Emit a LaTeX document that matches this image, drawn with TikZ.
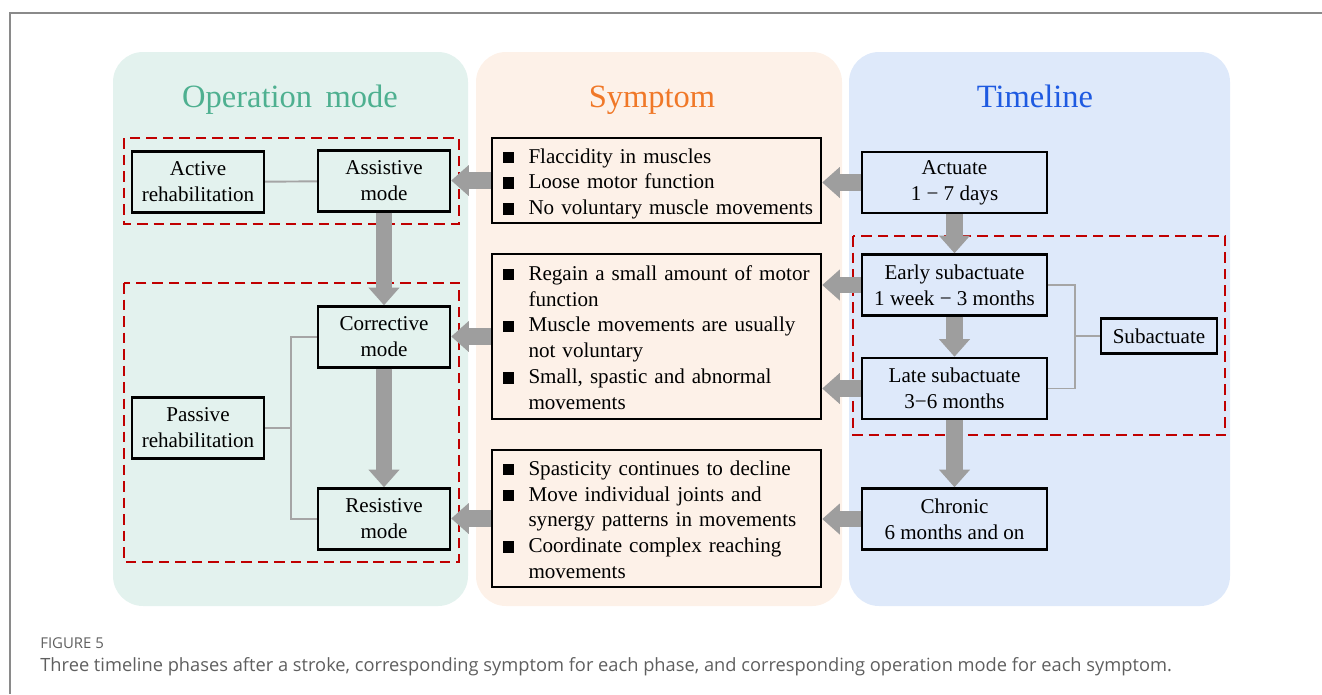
\documentclass[tikz,border=0pt]{standalone}
\usepackage{fontspec}
\setmainfont{Liberation Serif}
\newfontfamily\capfont{Open Sans}
\usetikzlibrary{arrows.meta}
\definecolor{opgreen}{RGB}{227,242,238}
\definecolor{sypeach}{RGB}{253,241,232}
\definecolor{tlblue}{RGB}{222,233,250}
\definecolor{optitle}{RGB}{78,176,144}
\definecolor{sytitle}{RGB}{240,120,40}
\definecolor{tltitle}{RGB}{30,90,225}
\definecolor{linkgray}{RGB}{165,165,165}
\definecolor{flowgray}{RGB}{158,158,158}
\definecolor{groupred}{RGB}{192,0,0}
\definecolor{capgray}{RGB}{95,95,95}
\definecolor{framegray}{RGB}{138,138,138}
\newcommand{\sq}{\rule{6.5pt}{6.5pt}}

\begin{document}
\begin{tikzpicture}[x=0.02cm,y=-0.02cm]
    \tikzset{box/.style = {draw,line width=1.4pt,align=center,inner sep=0pt,
        font=\fontsize{12}{14.7}\selectfont}}
    \tikzset{opbox/.style = {box,fill=opgreen,minimum width=2.64cm,minimum height=1.22cm}}
    \tikzset{tlbox/.style = {box,fill=tlblue,minimum width=3.7cm,minimum height=1.22cm}}
    \tikzset{sybox/.style = {box,fill=sypeach,text width=6.14cm,inner xsep=0.22cm,align=left}}
    \tikzset{title/.style = {font=\fontsize{18.5}{20}\selectfont,anchor=base}}
    \tikzset{link/.style = {draw=linkgray,line width=1.1pt}}
    \tikzset{flow/.style = {draw=flowgray,line width=9.5pt,-{Triangle[width=17pt,length=10pt]}}}
    \tikzset{group/.style = {draw=groupred,line width=1.4pt,dash pattern=on 6pt off 3.4pt}}
    \tikzset{captext/.style = {anchor=base west,inner sep=0pt,text=capgray}}
    \useasboundingbox (0,0) rectangle (1322,694);

    % frame and panels
    \draw[framegray,line width=1.1pt] (1322,13) -- (10,13) -- (10,694);
    \fill[opgreen,rounded corners=0.6cm] (113,52) rectangle (468,606);
    \fill[sypeach,rounded corners=0.6cm] (476,52) rectangle (842,606);
    \fill[tlblue,rounded corners=0.6cm] (849,52) rectangle (1230,606);
    \node[title,text=optitle] (t1) at (290,107) {Operation\, mode};
    \node[title,text=sytitle] (t2) at (652,107) {Symptom};
    \node[title,text=tltitle] (t3) at (1035,107) {Timeline};

    % groups
    \draw[group] (124,138) rectangle (459,224);
    \draw[group] (124,283) rectangle (459,562);
    \draw[group] (853,236) rectangle (1225,435);

    % vertices
    \node[opbox] (act) at (198,182) {Active\\rehabilitation};
    \node[opbox] (asst) at (384,181) {Assistive\\mode};
    \node[opbox] (corr) at (384,337) {Corrective\\mode};
    \node[opbox] (pass) at (198,428) {Passive\\rehabilitation};
    \node[opbox] (res) at (384,519) {Resistive\\mode};

    \node[sybox,minimum height=1.70cm] (s1) at (656.5,180.5) {\raisebox{-1.8pt}[\height][\depth]{%
        \begin{tabular}{@{}l@{\hspace{8pt}}l@{}}
        \sq & Flaccidity in muscles\\
        \sq & Loose motor function\\
        \sq & No voluntary muscle movements
        \end{tabular}}};
    \node[sybox,minimum height=3.30cm] (s2) at (656.5,336.5) {\raisebox{-1.8pt}[\height][\depth]{%
        \begin{tabular}{@{}l@{\hspace{8pt}}l@{}}
        \sq & Regain a small amount of motor\\
            & function\\
        \sq & Muscle movements are usually\\
            & not voluntary\\
        \sq & Small, spastic and abnormal\\
            & movements
        \end{tabular}}};
    \node[sybox,minimum height=2.74cm] (s3) at (656.5,518.5) {\raisebox{-1.8pt}[\height][\depth]{%
        \begin{tabular}{@{}l@{\hspace{8pt}}l@{}}
        \sq & Spasticity continues to decline\\
        \sq & Move individual joints and\\
            & synergy patterns in movements\\
        \sq & Coordinate complex reaching\\
            & movements
        \end{tabular}}};

    \node[tlbox] (acute) at (954.5,182.5) {Actuate\\1 − 7 days};
    \node[tlbox] (early) at (954.5,285) {Early subactuate\\1 week − 3 months};
    \node[tlbox] (late) at (954.5,388.5) {Late subactuate\\3−6 months};
    \node[tlbox] (chron) at (954.5,519) {Chronic\\6 months and on};
    \node[box,fill=tlblue,minimum width=2.32cm,minimum height=0.70cm] (sub) at (1159,336) {Subactuate};
    \coordinate (lb) at (291,428);
    \coordinate (rb) at (1075,336);

    %edges
    \draw[link] (act) -- (asst);
    \draw[link] (corr.west) -| (lb) |- (res.west);
    \draw[link] (pass) -- (lb);
    \draw[link] (early.east) -| (rb) |- (late.east);
    \draw[link] (sub) -- (rb);

    \draw[flow] (asst.south) -- (corr.north);
    \draw[flow] (corr.south) -- (res.north);
    \draw[flow] (acute.south) -- (early.north);
    \draw[flow] (early.south) -- (late.north);
    \draw[flow] (late.south) -- (chron.north);

    \draw[flow] (acute.west) -- (acute.west -| s1.east);
    \draw[flow] (early.west) -- (early.west -| s2.east);
    \draw[flow] (late.west) -- (late.west -| s2.east);
    \draw[flow] (chron.west) -- (chron.west -| s3.east);
    \draw[flow] (s1.west) -- (s1.west -| asst.east);
    \draw[flow] (s2.west) -- (s2.west -| corr.east);
    \draw[flow] (s3.west) -- (s3.west -| res.east);

    % caption
    \node[captext,font=\capfont\fontsize{8.5}{10}\selectfont] (fig) at (40,648) {FIGURE 5};
    \node[captext,font=\capfont\fontsize{10.4}{12}\selectfont] (caption) at (40,671) {Three timeline phases after a stroke, corresponding symptom for each phase, and corresponding operation mode for each symptom.};
\end{tikzpicture}
\end{document}
